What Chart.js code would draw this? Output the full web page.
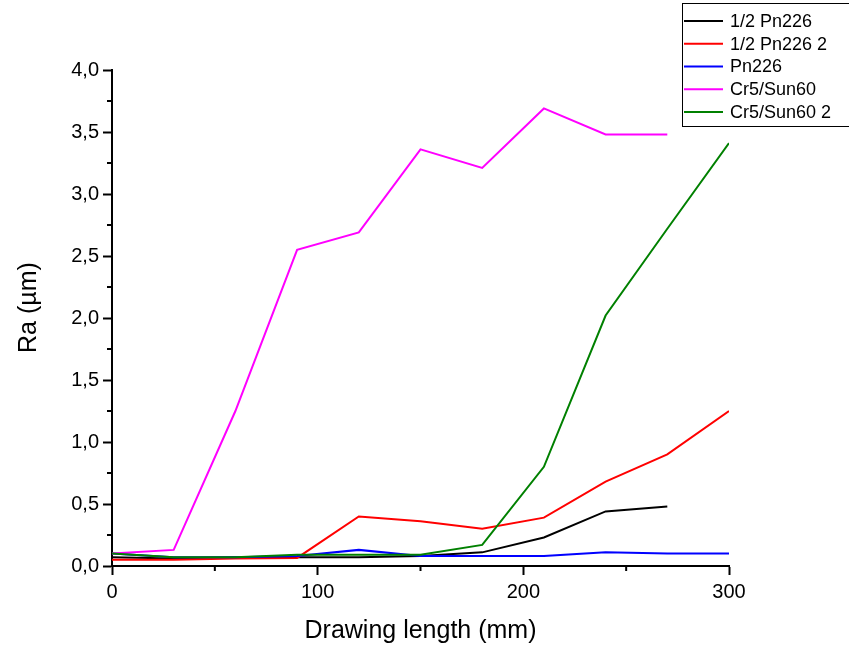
<!DOCTYPE html>
<html>
<head>
<meta charset="utf-8">
<script src="https://cdn.jsdelivr.net/npm/chart.js@4"></script>
<style>
  body { margin: 0; background: #fff; }
  #wrap { width: 849px; height: 648px; }
</style>
</head>
<body>
<div id="wrap"><canvas id="myChart"></canvas></div>
<script>
(() => {
	"use strict";

	// drawing length (mm)
	const lengths = [0, 30, 60, 90, 120, 150, 180, 210, 240, 270, 300];

	// Ra (µm) per series
	const halfPn226 = [0.07, 0.06, 0.07, 0.07, 0.07, 0.08, 0.11, 0.23, 0.44, 0.48, null];
	const halfPn226b = [0.05, 0.05, 0.06, 0.065, 0.40, 0.36, 0.30, 0.39, 0.68, 0.90, 1.25];
	const pn226 = [0.10, 0.07, 0.07, 0.08, 0.13, 0.08, 0.08, 0.08, 0.11, 0.10, 0.10];
	const cr5Sun60 = [0.10, 0.13, 1.25, 2.55, 2.69, 3.36, 3.21, 3.69, 3.48, 3.48, null];
	const cr5Sun60b = [0.10, 0.07, 0.07, 0.09, 0.09, 0.09, 0.17, 0.80, 2.02, 2.72, 3.41];

	const seriesNames = ["1/2 Pn226", "1/2 Pn226 2", "Pn226", "Cr5/Sun60", "Cr5/Sun60 2"];
	const seriesColors = ["#000000", "#ff0000", "#0000ff", "#ff00ff", "#008000"];
	const seriesValues = [halfPn226, halfPn226b, pn226, cr5Sun60, cr5Sun60b];

	const yMinorTicks = [0.25, 0.75, 1.25, 1.75, 2.25, 2.75, 3.25, 3.75];
	const xMinorTicks = [50, 150, 250];

	const font = "'Liberation Sans', Arial, sans-serif";

	const toPoints = (vals) => vals.map((v, i) => ({ x: lengths[i], y: v }));

	// minor ticks + boxed legend in the top-right corner
	const extras = {
		id: "extras",
		afterDraw(chart) {
			const { ctx, scales } = chart;
			const xs = scales.x;
			const ys = scales.y;
			ctx.save();
			ctx.strokeStyle = "#000";
			ctx.lineWidth = 2;
			ctx.beginPath();
			yMinorTicks.forEach((v) => {
				const py = ys.getPixelForValue(v);
				ctx.moveTo(xs.left - 5, py);
				ctx.lineTo(xs.left, py);
			});
			xMinorTicks.forEach((v) => {
				const px = xs.getPixelForValue(v);
				ctx.moveTo(px, ys.bottom);
				ctx.lineTo(px, ys.bottom + 5);
			});
			ctx.stroke();

			// legend
			ctx.lineWidth = 1;
			ctx.strokeRect(682.5, 3.5, 170, 123);
			ctx.font = "18px " + font;
			ctx.textBaseline = "middle";
			ctx.fillStyle = "#000";
			chart.data.datasets.forEach((ds, i) => {
				const y = 21 + i * 22.75;
				ctx.strokeStyle = ds.borderColor;
				ctx.lineWidth = 2;
				ctx.beginPath();
				ctx.moveTo(684, y);
				ctx.lineTo(723, y);
				ctx.stroke();
				ctx.fillText(ds.label, 730, y + 1);
			});
			ctx.restore();
		},
	};

	const ctx = document.getElementById("myChart");
	// eslint-disable-next-line no-unused-vars
	const myChart = new Chart(ctx, {
		type: "line",
		data: {
			datasets: seriesValues.map((vals, i) => ({
				label: seriesNames[i],
				data: toPoints(vals),
				borderColor: seriesColors[i],
				backgroundColor: seriesColors[i],
				borderWidth: 2,
				pointRadius: 0,
				tension: 0,
				order: seriesValues.length - i,
			})),
		},
		options: {
			responsive: true,
			maintainAspectRatio: false,
			animation: false,
			layout: { padding: { top: 70, right: 120, left: 0, bottom: 0 } },
			plugins: {
				legend: { display: false },
				tooltip: { enabled: false },
			},
			scales: {
				x: {
					type: "linear",
					min: 0,
					max: 300,
					afterFit: (scale) => { scale.height = 82; },
					border: { display: true, color: "#000", width: 2 },
					grid: { display: true, drawOnChartArea: false, drawTicks: true, tickLength: 9, tickColor: "#000", tickWidth: 2 },
					ticks: { stepSize: 100, color: "#000", padding: 5, maxRotation: 0, font: { family: font, size: 20 } },
					title: { display: true, text: "Drawing length (mm)", color: "#000", padding: { top: 0, bottom: 2 }, font: { family: font, size: 25 } },
				},
				y: {
					min: 0,
					max: 4,
					afterFit: (scale) => { scale.width = 112; },
					border: { display: true, color: "#000", width: 2 },
					grid: { display: true, drawOnChartArea: false, drawTicks: true, tickLength: 9, tickColor: "#000", tickWidth: 2 },
					ticks: {
						stepSize: 0.5,
						color: "#000",
						padding: 4,
						font: { family: font, size: 20 },
						callback: (v) => v.toFixed(1).replace(".", ","),
					},
					// leading spaces nudge the rotated title up a little, like the original
					title: { display: true, text: "   Ra (µm)", color: "#000", padding: { top: 14, bottom: 0 }, font: { family: font, size: 25 } },
				},
			},
		},
		plugins: [extras],
	});
})();
</script>
</body>
</html>
